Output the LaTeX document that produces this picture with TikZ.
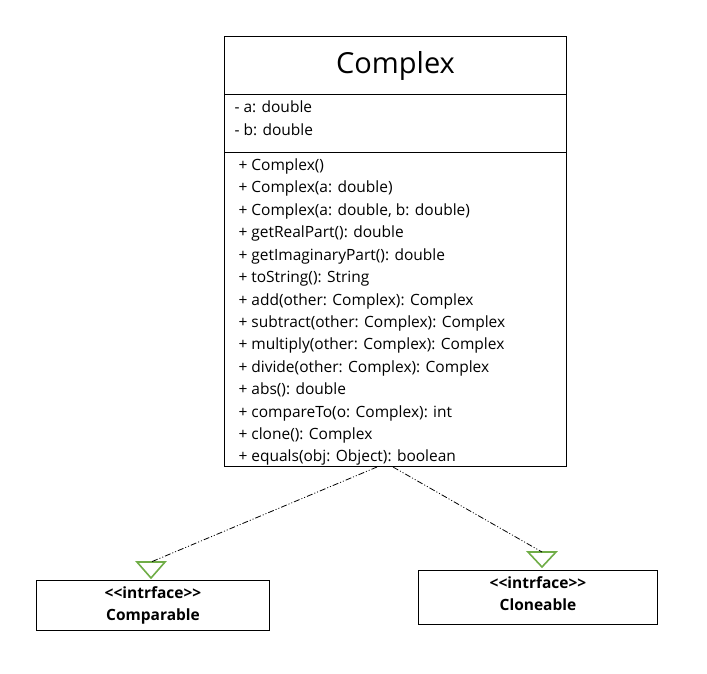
\documentclass[tikz,border=0pt]{standalone}
\usepackage{fontspec}
\setmainfont{Open Sans}
\definecolor{ifgreen}{HTML}{70AD47}

\begin{document}
\begin{tikzpicture}[x=1pt, y=-1pt, line width=1pt,
    member/.style={anchor=base west, inner sep=0pt, font=\fontsize{15.5}{18}\selectfont},
    realize/.style={line width=0.8pt, dash pattern=on 6pt off 2pt on 1pt off 2pt on 1pt off 2pt},
    hollow/.style={draw=ifgreen, line width=1.6pt, line join=miter}]
    \useasboundingbox (0,0) rectangle (707,674);

    % Class box
    \node[draw, anchor=north west, minimum width=342pt, minimum height=58pt, inner sep=0pt,
      font=\fontsize{29}{32}\selectfont] (cls) at (224,36) {Complex};
    \node[draw, anchor=north west, minimum width=342pt, minimum height=58pt] (clsAttr) at (224,94) {};
    \node[draw, anchor=north west, minimum width=342pt, minimum height=314pt] (clsOps) at (224,152) {};

    % Attributes
    \node[member] (attrA) at (234,113) {- a: double};
    \node[member] (attrB) at (234,136) {- b: double};

    % Operations
    \foreach \op [count=\i] in {{+ Complex()}, {+ Complex(a: double)}, {+ Complex(a: double, b: double)},
        {+ getRealPart(): double}, {+ getImaginaryPart(): double}, {+ toString(): String},
        {+ add(other: Complex): Complex}, {+ subtract(other: Complex): Complex},
        {+ multiply(other: Complex): Complex}, {+ divide(other: Complex): Complex},
        {+ abs(): double}, {+ compareTo(o: Complex): int}, {+ clone(): Complex},
        {+ equals(obj: Object): boolean}}
      \node[member] (op\i) at (238,148.2+22.4*\i) {\op};

    % Interfaces
    \node[draw, anchor=north west, minimum width=233pt, minimum height=50pt, align=center,
      font=\fontsize{15.5}{22}\selectfont\bfseries] (cmp) at (36,580)
      {<\kern0pt<intrface>\kern0pt>\\Comparable};
    \node[draw, anchor=north west, minimum width=239pt, minimum height=54pt] (cln) at (418,570) {};
    \node[align=center, font=\fontsize{15.5}{22}\selectfont\bfseries] (clnName)
      at ([yshift=4pt]cln.center) {<\kern0pt<intrface>\kern0pt>\\Cloneable};

    % Arrow heads
    \coordinate (cmpHead) at (151,562);
    \coordinate (clnHead) at (542,552);
    \draw[hollow] (cmpHead) ++(-14,0) -- ++(28,0) -- ++(-14,16) -- cycle;
    \draw[hollow] (clnHead) ++(-14,0) -- ++(28,0) -- ++(-14,15) -- cycle;

    % Arrows
    \coordinate (clsL) at (377,467);
    \coordinate (clsR) at (393,467);
    \draw[realize] (clsL) -- (cmpHead);
    \draw[realize] (clsR) -- (clnHead);
  \end{tikzpicture}
\end{document}
